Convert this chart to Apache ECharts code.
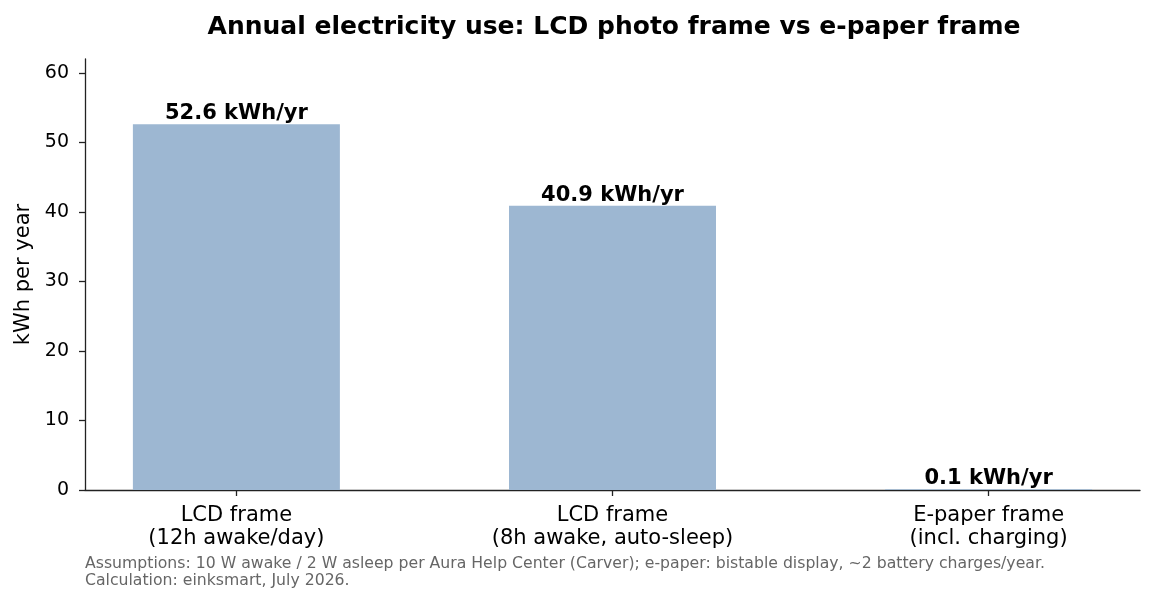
<!DOCTYPE html>
<html><head><meta charset="utf-8">
<script src="https://cdn.jsdelivr.net/npm/echarts@6/dist/echarts.min.js"></script>
<style>html,body{margin:0;padding:0;background:#fff}#c{width:1155px;height:603px}</style>
</head><body><div id="c"></div>
<script>
const categories = ["LCD frame\n(12h awake/day)", "LCD frame\n(8h awake, auto-sleep)", "E-paper frame\n(incl. charging)"];
const values = [52.6, 40.9, 0.1];
const valueLabels = ["52.6 kWh/yr", "40.9 kWh/yr", "0.1 kWh/yr"];
const yTicks = [0, 10, 20, 30, 40, 50, 60];
const titleText = "Annual electricity use: LCD photo frame vs e-paper frame";
const yName = "kWh per year";
const footnote = "Assumptions: 10 W awake / 2 W asleep per Aura Help Center (Carver); e-paper: bistable display, ~2 battery charges/year.\nCalculation: einksmart, July 2026.";

const FONT = "DejaVu Sans";
const chart = echarts.init(document.getElementById('c'), null, {renderer: 'canvas'});
chart.setOption({
  backgroundColor: '#ffffff',
  animation: false,
  textStyle: {fontFamily: FONT},
  title: {
    text: titleText, left: 609, top: 10, textAlign: 'center',
    textStyle: {fontFamily: FONT, fontSize: 25, fontWeight: 'bold', color: '#000'}
  },
  grid: {left: 85, right: 15, top: 59, bottom: 113, containLabel: false},
  xAxis: {
    type: 'value', min: -0.4025, max: 2.4025,
    splitLine: {show: false},
    axisLine: {show: true, onZero: false, lineStyle: {color: '#222', width: 1.3}},
    axisTick: {show: true, length: 6, lineStyle: {color: '#222', width: 1.3}, customValues: [0, 1, 2]},
    axisLabel: {
      customValues: [0, 1, 2], margin: 14, color: '#000', fontFamily: FONT, fontSize: 21, lineHeight: 23,
      formatter: v => categories[Math.round(v)]
    }
  },
  yAxis: {
    type: 'value', min: 0, max: 62, interval: 10,
    name: yName, nameLocation: 'middle', nameGap: 50, nameRotate: 90,
    nameTextStyle: {fontFamily: FONT, fontSize: 21, color: '#000'},
    splitLine: {show: false},
    axisLine: {show: true, onZero: false, lineStyle: {color: '#222', width: 1.3}},
    axisTick: {show: true, length: 6, lineStyle: {color: '#222', width: 1.3}, customValues: yTicks},
    axisLabel: {customValues: yTicks, margin: 16, color: '#000', fontFamily: FONT, fontSize: 19}
  },
  series: [{
    type: 'bar',
    data: values.map((v, i) => [i, v]),
    barWidth: 207,
    itemStyle: {color: '#9db7d2'},
    label: {
      show: true, position: 'top', distance: 0,
      formatter: p => valueLabels[p.dataIndex],
      fontFamily: FONT, fontSize: 21, fontWeight: 'bold', color: '#000'
    }
  }],
  graphic: [{
    type: 'text', left: 85, top: 555,
    style: {text: footnote, fill: '#666', font: '15.7px "DejaVu Sans"', lineHeight: 17}
  }]
});
</script></body></html>
